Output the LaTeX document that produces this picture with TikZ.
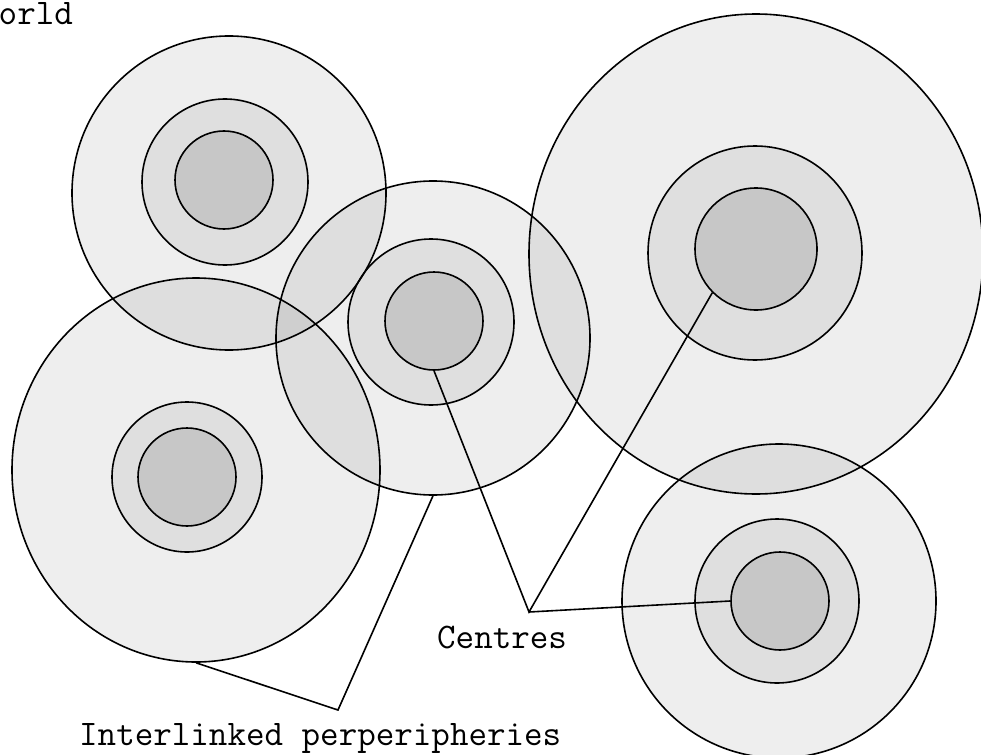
\documentclass[tikz,border=0pt]{standalone}
\usepackage{fontspec}
\usetikzlibrary{shapes.geometric}
\definecolor{ringgray}{RGB}{223,223,223}
\definecolor{coregray}{RGB}{199,199,199}

\tikzset{
  periph/.style={circle, draw, line width=1.6pt, fill=black, fill opacity=0.065, inner sep=0pt},
  periphE/.style={ellipse, draw, line width=1.6pt, fill=black, fill opacity=0.065, inner sep=0pt},
  ring/.style={circle, draw, line width=1.6pt, fill=ringgray, inner sep=0pt},
  core/.style={circle, draw, line width=1.6pt, fill=coregray, inner sep=0pt},
  label/.style={font=\ttfamily\fontsize{36}{42}\selectfont, anchor=base west, inner sep=0pt}
}

\begin{document}
\begin{tikzpicture}[x=1pt, y=-1pt]
    \useasboundingbox (0,0) rectangle (981,754);
    \clip (0,0) rectangle (981,754);
    \node[label] (world) at (-20,25) {World};
    % bottom left
    \node[periphE, minimum width=368pt, minimum height=384pt] (blOut) at (196,470) {};
    \node[ring, minimum size=150pt] (blMid) at (187,477) {};
    \node[core, minimum size=98pt] (blIn) at (187,477) {};
    % middle
    \node[periph, minimum size=314pt] (midOut) at (433,338) {};
    \node[ring, minimum size=166pt] (midMid) at (431,322) {};
    \node[core, minimum size=98pt] (midIn) at (434,321) {};
    % top left
    \node[periph, minimum size=314pt] (tlOut) at (229,193) {};
    \node[ring, minimum size=166pt] (tlMid) at (225,182) {};
    \node[core, minimum size=98pt] (tlIn) at (224,180) {};
    % top right
    \node[periphE, minimum width=454pt, minimum height=480pt] (trOut) at (756,254) {};
    \node[ring, minimum size=214pt] (trMid) at (755,253) {};
    \node[core, minimum size=122pt] (trIn) at (756,249) {};
    % bottom right
    \node[periph, minimum size=314pt] (brOut) at (779,601) {};
    \node[ring, minimum size=164pt] (brMid) at (777,601) {};
    \node[core, minimum size=98pt] (brIn) at (780,601) {};

    \coordinate (cj) at (529,612);
    \coordinate (ij) at (338,710);
    \node[label] (centres) at (437,648) {Centres};
    \node[label] (inter) at (79,745) {Interlinked perperipheries};
    \draw[line width=1.6pt] (midIn.south) -- (cj) -- (trIn.south west);
    \draw[line width=1.6pt] (cj) -- (brIn.west);
    \draw[line width=1.6pt] (blOut.south) -- (ij) -- (midOut.south);
\end{tikzpicture}
\end{document}
